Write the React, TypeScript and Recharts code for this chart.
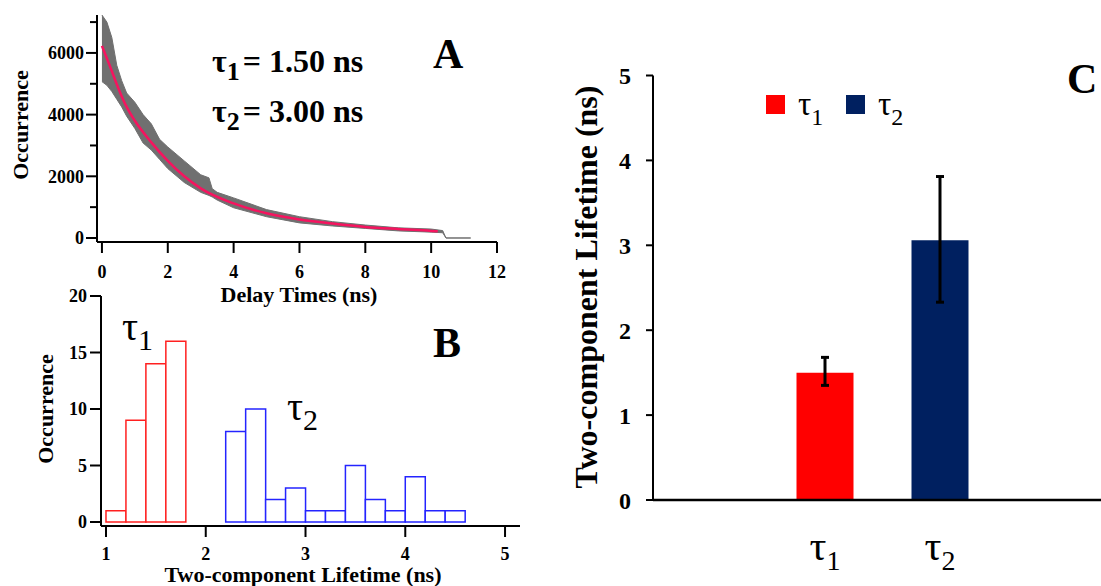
import React from 'react';
import { ComposedChart, BarChart, Bar, Area, Line, XAxis, YAxis, Cell, ErrorBar } from 'recharts';

const FONT = "'Liberation Serif', 'Times New Roman', serif";

// A: decay trace (edges of the noisy counts band) and the bi-exponential fit
const decayTimes = [0, 0.15, 0.3, 0.45, 0.6, 0.75, 1, 1.25, 1.5, 1.75, 2, 2.5, 3, 3.25, 3.35, 3.5, 4, 5, 6, 7, 8, 9, 10, 10.35, 10.45, 11.2];
const decayHigh = [7230, 7000, 6500, 5600, 5100, 4700, 4400, 4000, 3700, 3200, 2950, 2500, 2050, 1950, 1600, 1480, 1300, 920, 690, 530, 420, 330, 290, 240, 0, 0];
const decayLow = [5070, 4950, 4750, 4500, 4250, 3950, 3550, 3080, 2850, 2550, 2250, 1800, 1480, 1380, 1330, 1230, 980, 690, 490, 390, 310, 230, 190, 170, 0, 0];
const fitTimes = [0, 0.25, 0.5, 0.75, 1, 1.5, 2, 2.5, 3, 4, 5, 6, 7, 8, 9, 10, 10.2];
const fitCounts = [6230, 5550, 4850, 4250, 3800, 3100, 2500, 2000, 1610, 1120, 800, 600, 470, 360, 290, 230, 215];
const delayTicks = [0, 2, 4, 6, 8, 10, 12];
const countTicks = [0, 1000, 2000, 3000, 4000, 5000, 6000, 7000];

// B: lifetime histograms (bin centres, 0.2 ns bins)
const tau1Bins = [1.1, 1.3, 1.5, 1.7];
const tau1Counts = [1, 9, 14, 16];
const tau2Bins = [2.3, 2.5, 2.7, 2.9, 3.1, 3.3, 3.5, 3.7, 3.9, 4.1, 4.3, 4.5];
const tau2Counts = [8, 10, 2, 3, 1, 1, 5, 2, 1, 4, 1, 1];
const lifetimeTicks = [1, 2, 3, 4, 5];
const occTicks = [0, 5, 10, 15, 20];

// C: mean lifetimes with error bars
const compNames = ['τ1', 'τ2'];
const compMeans = [1.5, 3.06];
const compErrLow = [0.15, 0.73];
const compErrHigh = [0.18, 0.75];
const compColors = ['#ff0000', '#002060'];
const meanTicks = [0, 1, 2, 3, 4, 5];

const decayBand = decayTimes.map((t, i) => ({ t, band: [decayLow[i], decayHigh[i]] }));
const fitData = fitTimes.map((t, i) => ({ t, fit: fitCounts[i] }));
const histData = [
  ...tau1Bins.map((x, i) => ({ x, count: tau1Counts[i], color: '#ff2020' })),
  ...tau2Bins.map((x, i) => ({ x, count: tau2Counts[i], color: '#2424ff' })),
];
const meanData = compNames.map((name, i) => ({ name, mean: compMeans[i], err: [compErrLow[i], compErrHigh[i]] }));

const tickFont = { fontFamily: FONT, fontWeight: 'bold', fill: '#000' } as const;
const axisStroke = { stroke: '#000', strokeWidth: 2 };

const CountTick = (props: any) => {
  const { x, y, payload } = props;
  const major = payload.value % 2000 === 0;
  return (
    <g>
      <line x1={x - (major ? 11 : 7)} x2={x} y1={y} y2={y} stroke="#000" strokeWidth={2} />
      {major && (
        <text x={x - 13} y={y} dy="0.35em" textAnchor="end" fontSize={18} {...tickFont}>
          {payload.value}
        </text>
      )}
    </g>
  );
};

const TauTick = (props: any) => {
  const { x, y, payload } = props;
  const s = String(payload.value);
  return (
    <text x={x} y={y + 60} textAnchor="middle" fontFamily={FONT} fontSize={42} fill="#000">
      {s[0]}
      <tspan fontSize={28} dy={10}>{s.slice(1)}</tspan>
    </text>
  );
};

export default function App() {
  return (
    <div style={{ position: 'absolute', left: 0, top: 0, width: 1101, height: 586, overflow: 'hidden', background: '#fff' }}>
      <div style={{ position: 'absolute', left: 0, top: 0 }}>
        <ComposedChart width={520} height={300} margin={{ top: 15, right: 23, bottom: 0, left: 0 }}>
          <XAxis type="number" dataKey="t" domain={[-0.15, 12]} allowDataOverflow ticks={delayTicks} height={58}
            tickSize={11} tickMargin={12} axisLine={axisStroke} tickLine={axisStroke} tick={{ ...tickFont, fontSize: 18 }} />
          <YAxis type="number" domain={[-130, 7230]} allowDataOverflow ticks={countTicks} width={97}
            tickSize={0} tickMargin={0} axisLine={axisStroke} tickLine={false} tick={(p: any) => <CountTick {...p} />} />
          <Area data={decayBand} dataKey="band" type="linear" fill="#707070" fillOpacity={1} stroke="#707070" strokeWidth={1} isAnimationActive={false} />
          <Line data={fitData} dataKey="fit" type="monotone" stroke="#f5145f" strokeWidth={2.5} dot={false} isAnimationActive={false} />
        </ComposedChart>
      </div>
      <div style={{ position: 'absolute', left: 0, top: 280 }}>
        <ComposedChart width={540} height={306} data={histData} barCategoryGap={0} margin={{ top: 16, right: 20, bottom: 0, left: 0 }}>
          <XAxis type="number" dataKey="x" domain={[0.95, 5.15]} allowDataOverflow ticks={lifetimeTicks} height={60}
            tickSize={11} tickMargin={10} axisLine={axisStroke} tickLine={axisStroke} tick={{ ...tickFont, fontSize: 18 }} />
          <YAxis type="number" domain={[-0.354, 20]} allowDataOverflow ticks={occTicks} width={101}
            tickSize={11} tickMargin={3} axisLine={axisStroke} tickLine={axisStroke} tick={{ ...tickFont, fontSize: 18 }} />
          <Bar dataKey="count" fill="#fff" strokeWidth={1.5} isAnimationActive={false}>
            {histData.map((d, i) => <Cell key={i} stroke={d.color} />)}
          </Bar>
        </ComposedChart>
      </div>
      <div style={{ position: 'absolute', left: 540, top: 0 }}>
        <BarChart width={572} height={586} data={meanData} margin={{ top: 75.5, right: 0, bottom: 0, left: 0 }}>
          <XAxis dataKey="name" height={86} padding={{ left: 114.5, right: 114.5 }} tickSize={0} tickMargin={0}
            axisLine={{ stroke: '#000', strokeWidth: 2.5 }} tickLine={false} tick={(p: any) => <TauTick {...p} />} />
          <YAxis type="number" domain={[0, 5]} ticks={meanTicks} width={113} tickSize={7} tickMargin={15}
            axisLine={axisStroke} tickLine={axisStroke} tick={{ ...tickFont, fontSize: 24 }} />
          <Bar dataKey="mean" barSize={57} isAnimationActive={false}>
            {meanData.map((d, i) => <Cell key={d.name} fill={compColors[i]} />)}
            <ErrorBar dataKey="err" width={4} stroke="#000" strokeWidth={3} />
          </Bar>
        </BarChart>
      </div>
      <svg width={1101} height={586} style={{ position: 'absolute', left: 0, top: 0, pointerEvents: 'none' }}
        fontFamily={FONT} fontWeight="bold" fill="#000">
        {/* axis titles */}
        <text transform="rotate(-90, 28, 125)" x={28} y={125} textAnchor="middle" fontSize={22}>Occurrence</text>
        <text x={299} y={302} textAnchor="middle" fontSize={22}>Delay Times (ns)</text>
        <text transform="rotate(-90, 53, 409)" x={53} y={409} textAnchor="middle" fontSize={22}>Occurrence</text>
        <text x={303} y={582} textAnchor="middle" fontSize={22}>Two-component Lifetime (ns)</text>
        <text transform="rotate(-90, 597, 287)" x={597} y={287} textAnchor="middle" fontSize={32}>Two-component Lifetime (ns)</text>
        {/* panel letters */}
        <text x={433} y={68} fontSize={42}>A</text>
        <text x={433} y={357} fontSize={42}>B</text>
        <text x={1067} y={93} fontSize={42}>C</text>
        {/* fit results */}
        <text x={212} y={72} fontSize={32}>τ<tspan fontSize={26} dy={8}>1</tspan><tspan dy={-8} dx={3}>= 1.50 ns</tspan></text>
        <text x={212} y={122} fontSize={32}>τ<tspan fontSize={26} dy={8}>2</tspan><tspan dy={-8} dx={3}>= 3.00 ns</tspan></text>
        {/* histogram labels */}
        <text x={122} y={340} fontSize={40} fontWeight="normal">τ<tspan fontSize={30} dy={10}>1</tspan></text>
        <text x={287} y={420} fontSize={40} fontWeight="normal">τ<tspan fontSize={30} dy={10}>2</tspan></text>
        {/* legend of C */}
        <rect x={766} y={95} width={19} height={19} fill={compColors[0]} />
        <text x={798} y={115} fontSize={33} fontWeight="normal">τ<tspan fontSize={24} dy={10}>1</tspan></text>
        <rect x={846} y={95} width={19} height={19} fill={compColors[1]} />
        <text x={878} y={115} fontSize={33} fontWeight="normal">τ<tspan fontSize={24} dy={10}>2</tspan></text>
      </svg>
    </div>
  );
}
